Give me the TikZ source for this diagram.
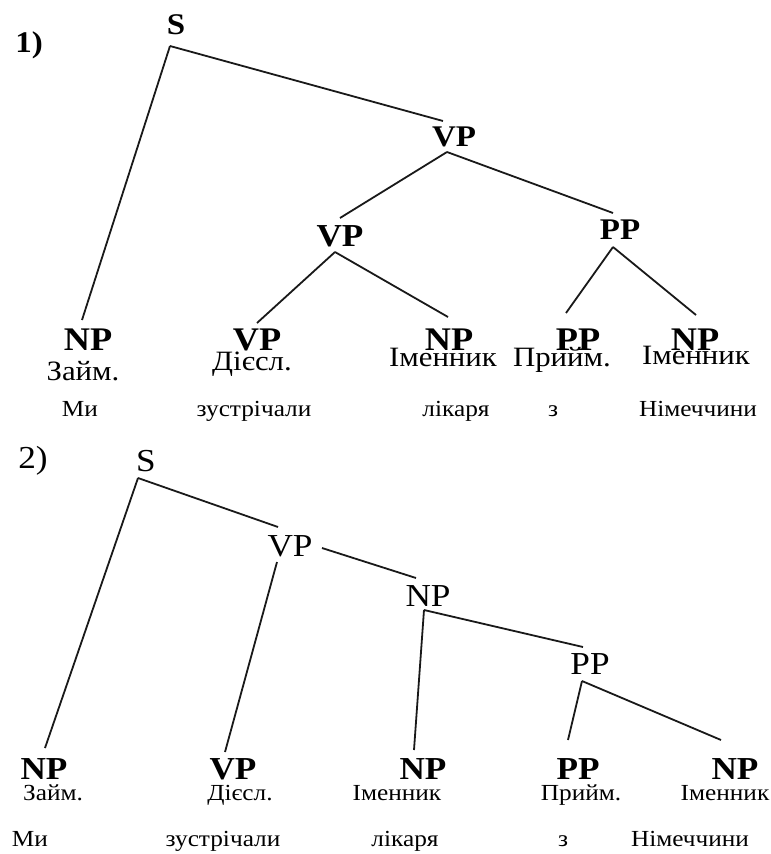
\documentclass[tikz,border=0pt]{standalone}
\usepackage{fontspec}
\setmainfont{Liberation Serif}[FakeStretch=1.1]
\begin{document}
\begin{tikzpicture}[x=1pt,y=-1pt,
  every node/.style={inner sep=0pt,anchor=center},
  edge/.style={line width=1.8pt,black!90},
  tlab/.style={font=\fontsize{30}{34}\selectfont\bfseries},
  tleaf/.style={font=\fontsize{33}{36}\selectfont\bfseries},
  tcat/.style={font=\fontsize{28}{32}\selectfont,anchor=base},
  tword/.style={font=\fontsize{23}{26}\selectfont,anchor=base},
  ulab/.style={font=\fontsize{32}{36}\selectfont},
  uleaf/.style={font=\fontsize{32}{36}\selectfont\bfseries},
  ucat/.style={font=\fontsize{23}{26}\selectfont,anchor=base},
  uword/.style={font=\fontsize{23}{26}\selectfont,anchor=base}]
\useasboundingbox (0,0) rectangle (771,854);
% ---------- tree 1 ----------
\node[tlab] (N1) at (29,45) {1)};
\node[tlab] (S1) at (176,25) {S};
\node[tlab] (VPt) at (454,137) {VP};
\node[tlab,font=\fontsize{32}{36}\selectfont\bfseries] (VPm) at (340,236) {VP};
\node[tlab] (PPt) at (620,230) {PP};
\node[tleaf] (L1a) at (88,340) {NP};
\node[tleaf] (L1b) at (257,340) {VP};
\node[tleaf] (L1c) at (449,340) {NP};
\node[tleaf] (L1d) at (578,340) {PP};
\node[tleaf] (L1e) at (695,340) {NP};
\node[tcat] (C1a) at (83,380) {Займ.};
\node[tcat] (C1b) at (252,370) {Дієсл.};
\node[tcat] (C1c) at (443,366) {Іменник};
\node[tcat] (C1d) at (562,366) {Прийм.};
\node[tcat] (C1e) at (696,364) {Іменник};
\node[tword] (W1a) at (80,416) {Ми};
\node[tword] (W1b) at (254,416) {зустрічали};
\node[tword] (W1c) at (456,416) {лікаря};
\node[tword] (W1d) at (553,416) {з};
\node[tword] (W1e) at (698,416) {Німеччини};
\draw[edge] ([shift={(-6,21)}]S1.center) -- ([shift={(-6,-20)}]L1a.center);
\draw[edge] ([shift={(-6,21)}]S1.center) -- ([shift={(-11,-16)}]VPt.center);
\draw[edge] ([shift={(-7,15)}]VPt.center) -- ([shift={(0,-18)}]VPm.center);
\draw[edge] ([shift={(-7,15)}]VPt.center) -- ([shift={(-7,-17)}]PPt.center);
\draw[edge] ([shift={(-5,16)}]VPm.center) -- ([shift={(0,-17)}]L1b.center);
\draw[edge] ([shift={(-5,16)}]VPm.center) -- ([shift={(-1,-23)}]L1c.center);
\draw[edge] ([shift={(-7,17)}]PPt.center) -- ([shift={(-12,-27)}]L1d.center);
\draw[edge] ([shift={(-7,17)}]PPt.center) -- ([shift={(1,-25)}]L1e.center);
% ---------- tree 2 ----------
\node[ulab] (N2) at (33,461) {2)};
\node[ulab] (S2) at (146,461) {S};
\node[ulab] (VP2) at (290,546) {VP};
\node[ulab] (NP2) at (428,596) {NP};
\node[ulab] (PP2) at (590,664) {PP};
\node[uleaf] (L2a) at (44,769) {NP};
\node[uleaf] (L2b) at (233,769) {VP};
\node[uleaf] (L2c) at (423,769) {NP};
\node[uleaf] (L2d) at (578,769) {PP};
\node[uleaf] (L2e) at (735,769) {NP};
\node[ucat] (C2a) at (53,800) {Займ.};
\node[ucat] (C2b) at (240,800) {Дієсл.};
\node[ucat] (C2c) at (397,800) {Іменник};
\node[ucat] (C2d) at (581,800) {Прийм.};
\node[ucat] (C2e) at (725,800) {Іменник};
\node[uword] (W2a) at (30,846) {Ми};
\node[uword] (W2b) at (223,846) {зустрічали};
\node[uword] (W2c) at (405,846) {лікаря};
\node[uword] (W2d) at (563,846) {з};
\node[uword] (W2e) at (690,846) {Німеччини};
\draw[edge] ([shift={(-8,17)}]S2.center) -- ([shift={(1,-21)}]L2a.center);
\draw[edge] ([shift={(-8,17)}]S2.center) -- ([shift={(-12,-19)}]VP2.center);
\draw[edge] ([shift={(32,2)}]VP2.center) -- ([shift={(-12,-18)}]NP2.center);
\draw[edge] ([shift={(-13,16)}]VP2.center) -- ([shift={(-8,-17)}]L2b.center);
\draw[edge] ([shift={(-4,14)}]NP2.center) -- ([shift={(-9,-19)}]L2c.center);
\draw[edge] ([shift={(-4,14)}]NP2.center) -- ([shift={(-7,-17)}]PP2.center);
\draw[edge] ([shift={(-8,17)}]PP2.center) -- ([shift={(-10,-29)}]L2d.center);
\draw[edge] ([shift={(-8,17)}]PP2.center) -- ([shift={(-14,-29)}]L2e.center);
\end{tikzpicture}
\end{document}
